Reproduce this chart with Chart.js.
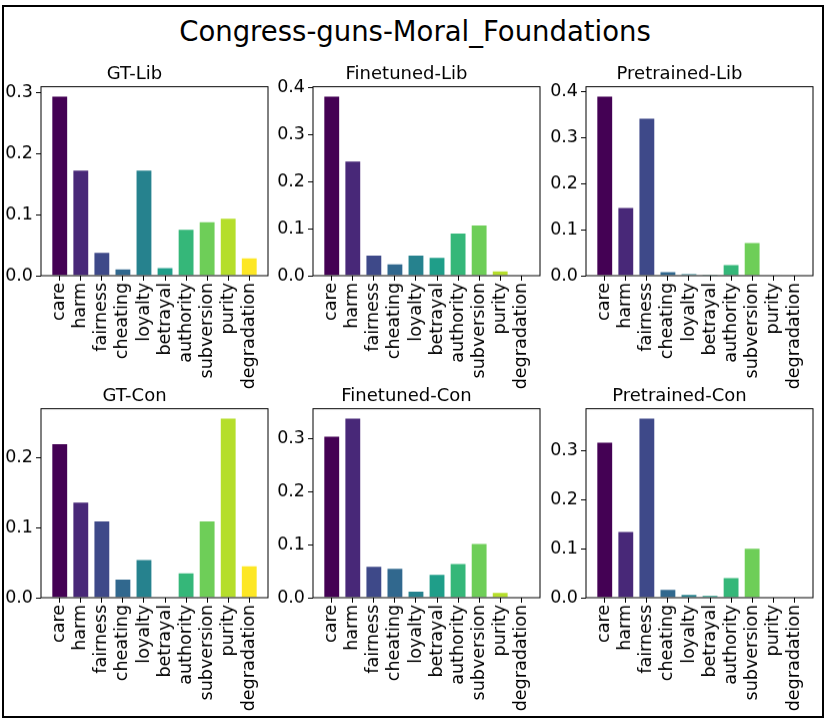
<!DOCTYPE html>
<html>
<head>
<meta charset="utf-8">
<script src="https://cdn.jsdelivr.net/npm/chart.js@4"></script>
<style>
  body { margin: 0; background: #fff; width: 830px; height: 724px; position: relative; overflow: hidden; }
  #frame { position: absolute; left: 2px; top: 5px; width: 822px; height: 713px; border: 2px solid #000; box-sizing: border-box; }
  #title { position: absolute; left: 0; width: 830px; top: 15px; text-align: center; font: 27.5px "DejaVu Sans"; color: #000; }
  canvas { position: absolute; }
</style>
</head>
<body>
<div id="frame"></div>
<div id="title">Congress-guns-Moral_Foundations</div>

<script>
const categories = ['care', 'harm', 'fairness', 'cheating', 'loyalty', 'betrayal', 'authority', 'subversion', 'purity', 'degradation'];

// values
const gtLib         = [0.295, 0.174, 0.039, 0.012, 0.174, 0.014, 0.077, 0.089, 0.095, 0.030];
const finetunedLib  = [0.383, 0.245, 0.045, 0.026, 0.045, 0.040, 0.092, 0.109, 0.011, 0];
const pretrainedLib = [0.391, 0.149, 0.343, 0.010, 0.005, 0.003, 0.025, 0.073, 0.0015, 0];
const gtCon         = [0.220, 0.137, 0.110, 0.027, 0.055, 0, 0.036, 0.110, 0.2565, 0.046];
const finetunedCon  = [0.305, 0.339, 0.060, 0.056, 0.013, 0.045, 0.065, 0.103, 0.011, 0];
const pretrainedCon = [0.318, 0.136, 0.367, 0.018, 0.0075, 0.0055, 0.042, 0.102, 0.0007, 0];

const titles = ['GT-Lib', 'Finetuned-Lib', 'Pretrained-Lib', 'GT-Con', 'Finetuned-Con', 'Pretrained-Con'];
const series = [gtLib, finetunedLib, pretrainedLib, gtCon, finetunedCon, pretrainedCon];

const viridis = ['#440154', '#482878', '#3e4989', '#31688e', '#26828e', '#1f9e89', '#35b779', '#6ece58', '#b5de2b', '#fde725'];

const FONT = 'DejaVu Sans';
const Y_W = 40, X_H = 114, TITLE_H = 22.6, RIGHT_PAD = 14;
const PLOT_W = 227, PLOT_H = 189;

// full box around each axes
const boxPlugin = {
  id: 'box',
  afterDraw(chart) {
    const a = chart.chartArea, ctx = chart.ctx;
    ctx.save();
    ctx.strokeStyle = '#000';
    ctx.lineWidth = 1;
    ctx.strokeRect(a.left, a.top, a.right - a.left, a.bottom - a.top);
    ctx.restore();
  }
};

series.forEach((vals, k) => {
  const col = k % 3, row = Math.floor(k / 3);
  const plotLeft = 41 + col * 272.3;
  const plotTop = 86.7 + row * 322;

  const canvas = document.createElement('canvas');
  const w = Y_W + PLOT_W + RIGHT_PAD, h = TITLE_H + PLOT_H + X_H;
  canvas.width = w; canvas.height = h;
  canvas.style.width = w + 'px'; canvas.style.height = h + 'px';
  canvas.style.left = (plotLeft - Y_W) + 'px';
  canvas.style.top = (plotTop - TITLE_H) + 'px';
  document.body.appendChild(canvas);

  const ymax = Math.max(...vals) * 1.05;

  new Chart(canvas.getContext('2d'), {
    type: 'bar',
    data: {
      datasets: [{
        data: vals.map((v, i) => ({ x: i, y: v })),
        backgroundColor: viridis,
        borderColor: 'rgba(255,255,255,0.3)',
        borderWidth: 1,
        barPercentage: 0.8,
        categoryPercentage: 1.0,
      }]
    },
    options: {
      responsive: false,
      animation: false,
      devicePixelRatio: 1,
      layout: { padding: { top: 0, left: 0, bottom: 0, right: RIGHT_PAD } },
      plugins: {
        legend: { display: false },
        tooltip: { enabled: false },
        title: {
          display: true,
          text: titles[k],
          color: '#000',
          font: { family: FONT, size: 18, weight: 'normal' },
          padding: { top: 0, bottom: 1 }
        }
      },
      scales: {
        x: {
          type: 'linear',
          offset: false,
          min: -0.89,
          max: 9.89,
          afterBuildTicks: s => { s.ticks = categories.map((_, i) => ({ value: i })); },
          afterFit: s => { s.height = X_H; },
          ticks: {
            autoSkip: false,
            minRotation: 90,
            maxRotation: 90,
            color: '#000',
            padding: 2,
            font: { family: FONT, size: 17.5 },
            callback: v => categories[v]
          },
          grid: { offset: false, drawOnChartArea: false, drawTicks: true, tickLength: 5, color: '#000' },
          border: { display: false }
        },
        y: {
          min: 0,
          max: ymax,
          afterFit: s => { s.width = Y_W; },
          ticks: {
            stepSize: 0.1,
            includeBounds: false,
            color: '#000',
            padding: 3,
            font: { family: FONT, size: 17.5 },
            callback: v => v.toFixed(1)
          },
          grid: { drawOnChartArea: false, drawTicks: true, tickLength: 5, color: '#000' },
          border: { display: false }
        }
      }
    },
    plugins: [boxPlugin]
  });
});
</script>
</body>
</html>
